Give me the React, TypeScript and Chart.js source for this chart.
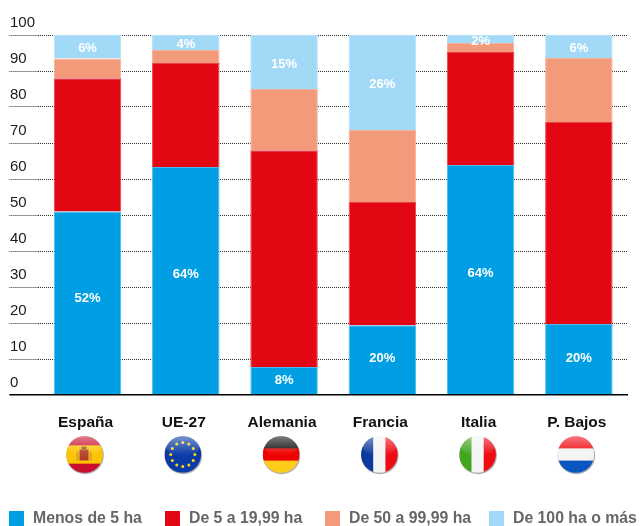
import React, { useEffect, useRef } from "react";
import { Chart, registerables } from "chart.js";

Chart.register(...registerables);

const categories = ["España", "UE-27", "Alemania", "Francia", "Italia", "P. Bajos"];
const yTicks = [0, 10, 20, 30, 40, 50, 60, 70, 80, 90, 100];
const menos5 = [51, 63.3, 7.8, 19.4, 63.9, 19.7];
const de5a19 = [37, 28.9, 60.2, 34.2, 31.4, 56.1];
const de50a99 = [5.5, 3.6, 17, 20, 2.5, 17.8];
const de100 = [6.5, 4.2, 15, 26.4, 2.2, 6.4];
const menos5Labels = ["52%", "64%", "8%", "20%", "64%", "20%"];
const de100Labels = ["6%", "4%", "15%", "26%", "2%", "6%"];
const seriesNames = ["Menos de 5 ha", "De 5 a 19,99 ha", "De 50 a 99,99 ha", "De 100 ha o más"];

const FONT = '"Liberation Sans", Arial, sans-serif';

function stripes(ctx: any, x: number, y: number, r: number, colors: string[], weights: number[], vertical: boolean) {
  const sum = weights.reduce((a, b) => a + b, 0);
  let pos = 0;
  colors.forEach((c, i) => {
    const len = (2 * r * weights[i]) / sum;
    ctx.fillStyle = c;
    if (vertical) ctx.fillRect(x - r + pos, y - r, len + 0.5, 2 * r);
    else ctx.fillRect(x - r, y - r + pos, 2 * r, len + 0.5);
    pos += len;
  });
}

function drawFlag(ctx: any, name: string, x: number, y: number, r: number) {
  ctx.save();
  ctx.beginPath();
  ctx.arc(x + 0.5, y + 1, r + 0.5, 0, Math.PI * 2);
  ctx.fillStyle = "rgba(110,110,110,0.55)";
  ctx.fill();
  ctx.beginPath();
  ctx.arc(x, y, r, 0, Math.PI * 2);
  ctx.clip();
  if (name === "España") {
    stripes(ctx, x, y, r, ["#c8102e", "#ffc400", "#c8102e"], [1, 2, 1], false);
    ctx.fillStyle = "#b5402a";
    ctx.fillRect(x - 5, y - 5, 9, 11);
    ctx.fillStyle = "#c9a13a";
    ctx.fillRect(x - 8, y - 3, 2, 9);
    ctx.fillRect(x + 5, y - 3, 2, 9);
    ctx.fillStyle = "#8a5a3a";
    ctx.fillRect(x - 3, y - 8, 5, 3);
  } else if (name === "UE-27") {
    ctx.fillStyle = "#0a3aa5";
    ctx.fillRect(x - r, y - r, 2 * r, 2 * r);
    ctx.fillStyle = "#ffd617";
    for (let i = 0; i < 12; i++) {
      const a = (i * Math.PI) / 6;
      ctx.beginPath();
      ctx.arc(x + Math.cos(a) * r * 0.66, y + Math.sin(a) * r * 0.66, 1.5, 0, Math.PI * 2);
      ctx.fill();
    }
  } else if (name === "Alemania") {
    stripes(ctx, x, y, r, ["#111111", "#ee0000", "#ffcc1a"], [1, 1, 1], false);
  } else if (name === "Francia") {
    stripes(ctx, x, y, r, ["#0c3a9c", "#f4f4f4", "#f00a14"], [1, 1, 1], true);
  } else if (name === "Italia") {
    stripes(ctx, x, y, r, ["#42a51e", "#f4f4f4", "#f00a14"], [1, 1, 1], true);
  } else {
    stripes(ctx, x, y, r, ["#f00a14", "#f4f4f4", "#0a56c0"], [1, 1, 1], false);
  }
  const gloss = ctx.createLinearGradient(0, y - r, 0, y);
  gloss.addColorStop(0, "rgba(255,255,255,0.45)");
  gloss.addColorStop(1, "rgba(255,255,255,0.02)");
  ctx.fillStyle = gloss;
  ctx.beginPath();
  ctx.ellipse(x, y - r * 0.45, r * 0.92, r * 0.55, 0, 0, Math.PI * 2);
  ctx.fill();
  ctx.restore();
}

const decorations = {
  id: "decorations",
  afterDraw(chart: any) {
    const { ctx } = chart;
    const x = chart.scales.x;
    // flags under the category labels
    categories.forEach((name, i) => {
      drawFlag(ctx, name, x.getPixelForValue(i) - 3, chart.scales.y.bottom + 59.5, 18.3);
    });
    // value labels inside the bars
    ctx.save();
    ctx.font = `bold 13px ${FONT}`;
    ctx.fillStyle = "#ffffff";
    ctx.textAlign = "center";
    ctx.textBaseline = "middle";
    const metaBlue = chart.getDatasetMeta(0).data;
    const metaPale = chart.getDatasetMeta(3).data;
    menos5Labels.forEach((t, i) => {
      const p = metaBlue[i];
      ctx.fillText(t, p.x, (p.y + p.base) / 2 - (p.base - p.y) * 0.03 + 1);
    });
    de100Labels.forEach((t, i) => {
      const p = metaPale[i];
      ctx.fillText(t, p.x, (p.y + p.base) / 2 + 2);
    });
    // legend row
    const legendLefts = [9, 165, 325, 489];
    const top = 511;
    ctx.font = `bold 15.8px ${FONT}`;
    ctx.textAlign = "left";
    chart.data.datasets.forEach((d: any, i: number) => {
      const left = legendLefts[i];
      ctx.fillStyle = d.backgroundColor;
      ctx.fillRect(left, top, 15, 15);
      ctx.fillStyle = "#666666";
      ctx.fillText(d.label, left + 24, top + 8);
    });
    ctx.restore();
  },
};

export default function App() {
  const ref = useRef<HTMLCanvasElement>(null);
  useEffect(() => {
    const chart = new Chart(ref.current as HTMLCanvasElement, {
      type: "bar",
      data: {
        labels: categories,
        datasets: [
          { label: seriesNames[0], data: menos5, backgroundColor: "#009fe3", borderColor: "#4db9ea", borderWidth: 1 },
          { label: seriesNames[1], data: de5a19, backgroundColor: "#e30613", borderColor: "#e9404a", borderWidth: 1 },
          { label: seriesNames[2], data: de50a99, backgroundColor: "#f39a7b", borderColor: "#f6b19a", borderWidth: 1 },
          { label: seriesNames[3], data: de100, backgroundColor: "#a2d9f7", borderColor: "#b4e0f8", borderWidth: 1 },
        ],
      },
      options: {
        responsive: false,
        animation: false,
        datasets: { bar: { categoryPercentage: 0.687, barPercentage: 1 } },
        layout: { padding: { left: 10, right: 12, top: 35, bottom: 0 } },
        plugins: { legend: { display: false }, tooltip: { enabled: false } },
        scales: {
          x: {
            stacked: true,
            grid: { display: false },
            border: { display: false },
            ticks: { color: "#111111", font: { family: FONT, size: 15.5, weight: "bold" }, padding: 10, labelOffset: -2, maxRotation: 0, autoSkip: false },
            afterFit: (s: any) => { s.height = 131; },
          },
          y: {
            stacked: true,
            min: 0,
            max: 100,
            afterBuildTicks: (s: any) => { s.ticks = yTicks.map((value) => ({ value })); },
            border: { display: false, dash: (c: any) => (c.tick && c.tick.value === 0 ? [] : [1, 1]) },
            grid: {
              color: (c: any) => (c.tick && c.tick.value === 0 ? "#000000" : "#333333"),
              tickColor: (c: any) => (c.tick && c.tick.value === 0 ? "#000000" : "#333333"),
              lineWidth: (c: any) => (c.tick && c.tick.value === 0 ? 1.5 : 1),
              tickWidth: (c: any) => (c.tick && c.tick.value === 0 ? 1.5 : 1),
              tickBorderDash: (c: any) => (c.tick && c.tick.value === 0 ? [] : [1, 1]),
              tickLength: 29,
            },
            ticks: {
              color: "#1a1a1a",
              autoSkip: false,
              crossAlign: "far",
              font: { family: FONT, size: 15, lineHeight: "25px" },
              callback: (v: any) => [String(v), ""],
            },
            afterFit: (s: any) => { s.width = 28.4; },
          },
        },
      },
      plugins: [decorations],
    } as any);
    return () => chart.destroy();
  }, []);
  return (
    <div style={{ position: "absolute", left: 0, top: 0, width: 640, height: 526, background: "#ffffff" }}>
      <canvas ref={ref} width={640} height={526} style={{ display: "block" }} />
    </div>
  );
}
